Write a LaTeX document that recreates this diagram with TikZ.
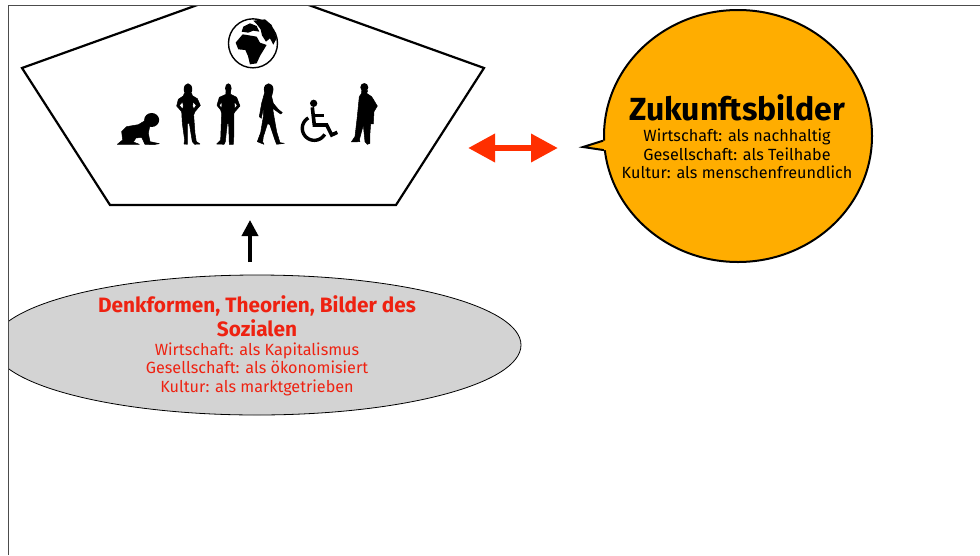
\documentclass[tikz,border=0pt]{standalone}
\usepackage{fontspec}
\setmainfont{Fira Sans}
\usetikzlibrary{arrows.meta,shapes.geometric}
\definecolor{bubbleorange}{HTML}{FFAD00}
\definecolor{denkred}{HTML}{EE2211}
\definecolor{arrowred}{HTML}{FF2F00}
\definecolor{denkgray}{HTML}{D3D3D3}
\tikzset{
  titletext/.style={align=center, inner sep=0pt, font=\bfseries\fontsize{32}{34}\selectfont},
  bodytext/.style={align=center, inner sep=0pt, font=\fontsize{16.2}{18.5}\selectfont},
  denktitle/.style={align=center, inner sep=0pt, text=denkred, font=\bfseries\fontsize{20.8}{24}\selectfont},
  figure/.style={fill=black, draw=black, line width=0.5pt, even odd rule, line join=round},
  figurehead/.style={ellipse, fill=black, inner sep=0pt},
}
\begin{document}
\begin{tikzpicture}[x=1pt, y=-1pt]
\useasboundingbox (0,0) rectangle (980,555);
\fill[white] (0,0) rectangle (980,555);

\begin{scope}
\clip (8,5) rectangle (980,555);
% Pentagon
\coordinate (penta1) at (253,-15);
\coordinate (penta2) at (484,68);
\coordinate (penta3) at (396,205);
\coordinate (penta4) at (110,205);
\coordinate (penta5) at (22,68);
\draw[line width=2.2pt, line join=miter] (penta1) -- (penta2) -- (penta3) -- (penta4) -- (penta5) -- cycle;
% Speech bubble
\node[ellipse, draw=black, fill=bubbleorange, line width=2pt, minimum width=268pt, minimum height=252pt, inner sep=0pt] (bubble) at (738,136) {};
\coordinate (bubbletip) at (583,147);
\fill[bubbleorange] (bubble.182) -- (bubbletip) -- (bubble.186) -- ([xshift=3pt]bubble.186) -- ([xshift=3pt]bubble.182) -- cycle;
\draw[line width=2pt, line join=miter] (bubble.182) -- (bubbletip) -- (bubble.186);
% Thinking forms
\node[ellipse, draw=black, fill=denkgray, line width=0.8pt, minimum width=528pt, minimum height=140pt, inner sep=0pt] (denk) at (257,345) {};
\end{scope}

% Frame
\draw[black!70, line width=1pt] (8,555) -- (8,5) -- (980,5);

% Texts
\node[titletext] (zukunft) at (737,108) {Zukunftsbilder};
\node[bodytext] (zukunftbody) at (737,154) {Wirtschaft: als nachhaltig\\Gesellschaft: als Teilhabe\\Kultur: als menschenfreundlich};
\node[denktitle] (denkhead) at (257,316) {Denkformen, Theorien, Bilder des\\Sozialen};
\node[bodytext, text=denkred] (denkbody) at (257,369) {Wirtschaft: als Kapitalismus\\Gesellschaft: als ökonomisiert\\Kultur: als marktgetrieben};

% Arrows
\coordinate (uptail) at (250,262);
\coordinate (uphead) at (250,220);
\draw[-{Triangle[length=16pt,width=16pt]}, line width=3.6pt] (uptail) -- (uphead);
\coordinate (swapleft) at (468,148);
\coordinate (swapright) at (558,148);
\draw[{Triangle[length=27pt,width=27pt]}-{Triangle[length=27pt,width=27pt]}, draw=arrowred, fill=arrowred, line width=6.5pt] (swapleft) -- (swapright);

% Globe and people
\begin{scope}[shift={(100,0)}, x=0.3333pt, y=-0.3333pt]
  \node[circle, draw=black, line width=1.4pt, minimum size=49pt, inner sep=0pt] (globe) at (459,130) {};
  \fill[black] (407,128) -- (428,103) -- (447,106) -- (470,110) -- (480,128) -- (500,135) -- (480,168) -- (470,190) -- (450,193) -- (444,168) -- (436,150) -- (415,148) -- cycle;
  \fill[black] (425,95) -- (430,80) -- (450,70) -- (470,78) -- (478,95) -- (460,92) -- (445,98) -- cycle;
  \fill[black] (460,62) -- (495,58) -- (515,75) -- (530,115) -- (520,134) -- (510,115) -- (498,125) -- (486,106) -- (482,88) -- (470,72) -- cycle;
  % Baby
  \node[figurehead, minimum width=15pt, minimum height=14pt] (babyhead) at (155,360) {};
  \fill[figure] (150,375) -- (145,400) -- (150,425) -- (178,431) -- (160,434) -- (135,433) -- (125,412) -- (108,414) -- (100,426) -- (118,433) -- (52,433) -- (68,420) -- (65,395) -- (80,380) -- (115,374) -- (135,362) -- cycle;
  % Standing woman
  \node[figurehead, minimum width=8.5pt, minimum height=12pt] (womanhead) at (264,268) {};
  \fill[figure] (253,280) -- (275,280) -- (277,287) -- (292,296) -- (301,316) -- (285,335) -- (281,345) -- (285,400) -- (289,425) -- (300,432) -- (284,433) -- (277,425) -- (268,370) -- (262,370) -- (262,433) -- (252,432) -- (254,420) -- (247,370) -- (245,335) -- (230,318) -- (235,298) -- (250,288) -- cycle
    (248,305) -- (238,316) -- (248,328) -- (250,318) -- cycle
    (279,305) -- (289,316) -- (281,328) -- (278,318) -- cycle;
  % Standing man
  \node[figurehead, minimum width=6.5pt, minimum height=10pt] (manhead) at (385,265) {};
  \fill[figure] (378,275) -- (392,275) -- (392,283) -- (410,292) -- (420,318) -- (405,335) -- (402,340) -- (402,400) -- (400,433) -- (388,433) -- (386,370) -- (382,370) -- (376,425) -- (372,433) -- (350,432) -- (362,420) -- (365,340) -- (362,330) -- (351,316) -- (358,292) -- (378,283) -- cycle
    (366,305) -- (358,316) -- (365,326) -- cycle
    (403,305) -- (412,316) -- (404,326) -- cycle;
  % Walking woman
  \node[figurehead, minimum width=9.5pt, minimum height=12pt] (walkhead) at (506,268) {};
  \fill[figure] (495,275) -- (518,275) -- (515,290) -- (520,310) -- (535,328) -- (547,338) -- (542,342) -- (525,330) -- (518,325) -- (522,350) -- (530,395) -- (540,428) -- (553,430) -- (530,433) -- (525,420) -- (510,375) -- (503,370) -- (490,410) -- (488,425) -- (492,433) -- (472,425) -- (482,398) -- (490,350) -- (490,325) -- (484,355) -- (478,350) -- (485,310) -- (492,285) -- cycle;
  % Wheelchair
  \node[circle, fill=black, minimum size=7.3pt, inner sep=0pt] (rollhead) at (641,310) {};
  \draw[line width=3.4pt] plot[domain=30:240, samples=30] ({643+36*cos(\x)},{385+36*sin(\x)});
  \draw[line width=3.6pt, line join=miter] (637,322) -- (643,375) -- (680,375) -- (695,405) -- (712,397);
  \draw[line width=3pt] (640,347) -- (671,347);
  % Worker
  \node[figurehead, minimum width=8pt, minimum height=8.5pt] (workerhead) at (793,262) {};
  \fill[figure] (785,272) -- (803,272) -- (800,280) -- (815,290) -- (832,318) -- (822,335) -- (820,372) -- (812,372) -- (810,400) -- (810,430) -- (802,433) -- (795,425) -- (790,375) -- (778,420) -- (780,425) -- (754,426) -- (765,410) -- (772,350) -- (778,290) -- (785,280) -- cycle;
\end{scope}
\end{tikzpicture}
\end{document}
